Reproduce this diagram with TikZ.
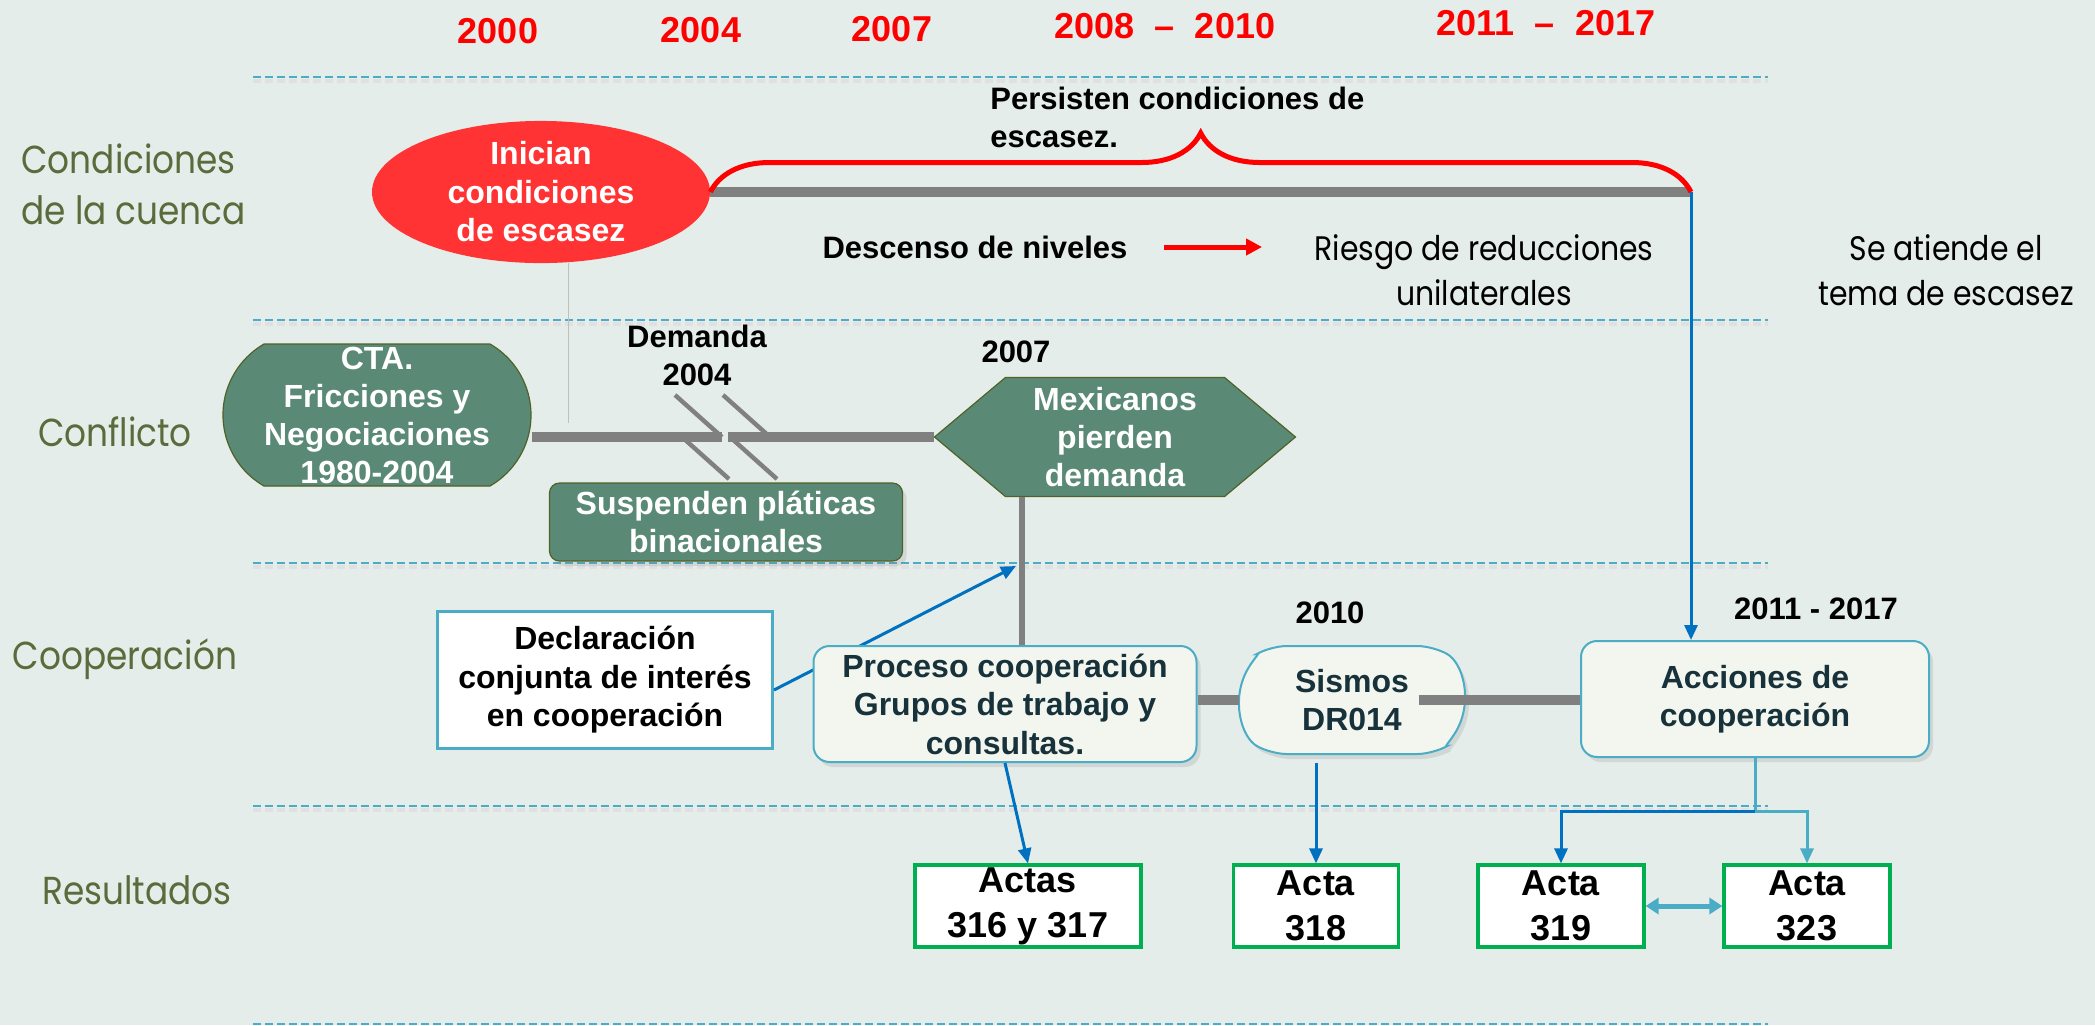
\documentclass[tikz,border=0pt]{standalone}
\usepackage{fontspec}
\setmainfont{Liberation Sans}
\newfontfamily\rowfont[FakeStretch=0.88]{Poppins}
\usetikzlibrary{shapes.geometric,shapes.misc,shapes.symbols,decorations.pathreplacing,shadows,arrows.meta}

\definecolor{bgcol}{HTML}{E4EDE9}
\definecolor{dashcol}{HTML}{4BACC6}
\definecolor{yearred}{HTML}{FF0000}
\definecolor{scarred}{HTML}{FF3333}
\definecolor{boxgreen}{HTML}{5A8A76}
\definecolor{olive}{HTML}{4F6228}
\definecolor{rowolive}{HTML}{5B6B3B}
\definecolor{pale}{HTML}{F2F6EE}
\definecolor{coopblue}{HTML}{0070C0}
\definecolor{coopteal}{HTML}{4BACC6}
\definecolor{coopink}{HTML}{17323A}
\definecolor{actgreen}{HTML}{00B050}
\definecolor{barg}{HTML}{808080}

\tikzset{
  % the timeline grid
  rowline/.style={draw=dashcol, line width=1pt, dash pattern=on 4pt off 2pt},
  rowshadow/.style={draw=black!12, line width=2pt, dash pattern=on 4pt off 2pt},
  % texts
  year/.style={font=\fontsize{18}{20}\selectfont\bfseries, text=yearred, inner sep=1pt},
  rowlabel/.style={font=\rowfont\fontsize{19.5}{25.5}\selectfont, text=rowolive, inner sep=1pt},
  note/.style={font=\fontsize{15.5}{19}\selectfont\bfseries, align=center, inner sep=1pt},
  remark/.style={font=\rowfont\fontsize{17}{22.5}\selectfont, align=center, inner sep=1pt},
  % boxes
  darkbox/.style={fill=boxgreen, draw=olive, line width=0.6pt, text=white,
    font=\fontsize{16}{19}\selectfont\bfseries, align=center, inner sep=0pt},
  coopbox/.style={rectangle, rounded corners=8pt, fill=pale, draw=coopteal, line width=1pt,
    text=coopink, font=\fontsize{16}{19.25}\selectfont\bfseries, align=center, inner sep=0pt,
    drop shadow={opacity=0.2, shadow xshift=2pt, shadow yshift=-2.5pt}},
  actbox/.style={rectangle, fill=white, draw=actgreen, line width=1.6pt, minimum height=41pt,
    font=\fontsize{18}{22.5}\selectfont\bfseries, align=center, inner sep=0pt},
  % connectors
  graybar/.style={draw=barg, line width=5pt},
  slash/.style={draw=barg, line width=2.2pt},
  bracered/.style={draw=red, line width=2.5pt, decorate, decoration={brace, amplitude=29.5pt}},
  redarrow/.style={draw=red, line width=2.5pt, -{Triangle[length=8pt,width=8pt]}},
  bluearrow/.style={draw=coopblue, line width=1.5pt, -{Triangle[length=7.5pt,width=6.5pt]}},
  tealarrow/.style={draw=coopteal, line width=1.5pt, -{Triangle[length=7.5pt,width=6.5pt]}},
  twoway/.style={draw=coopteal, line width=2.5pt, {Triangle[length=6.5pt,width=8pt]}-{Triangle[length=6.5pt,width=8pt]}}
}

\begin{document}
\begin{tikzpicture}[x=0.5pt, y=-0.5pt]
  \useasboundingbox[fill=bgcol] (0,0) rectangle (2095,1025);

  % grid lines
  \foreach \y in {77,320,563,806,1024} {
    \draw[rowshadow] (253,\y+4) -- (1768,\y+4);
    \draw[rowline] (253,\y) -- (1768,\y);
  }

  % years
  \node[year] (y2000) at (498,31) {2000};
  \node[year] (y2004) at (701,30) {2004};
  \node[year] (y2007) at (892,29) {2007};
  \node[year] (y2008) at (1165,26) {2008~~–~~2010};
  \node[year] (y2011) at (1546,23) {2011~~–~~2017};

  % row labels
  \node[rowlabel, anchor=west, align=left] (lcuenca) at (19,184) {Condiciones\\de la cuenca};
  \node[rowlabel] (lconflicto) at (115,432) {Conflicto};
  \node[rowlabel] (lcoop) at (125,659) {Cooperación};
  \node[rowlabel] (lresult) at (137,890) {Resultados};

  % basin conditions
  \coordinate (bend) at (1691,192);
  \node[ellipse, fill=scarred, text=white, minimum width=169pt, minimum height=57pt, inner sep=0pt,
        font=\fontsize{16}{19.25}\selectfont\bfseries, align=center] (incond) at (541,192)
        {Inician\\condiciones\\de escasez};
  \draw[graybar] (incond.east) -- (bend);
  \draw[bracered] (incond.east) -- (bend);
  \node[note, anchor=west, align=left] (persist) at (988,117) {Persisten condiciones de\\escasez.};
  \node[note] (descenso) at (975,247) {Descenso de niveles};
  \node[remark] (riesgo) at (1484,270) {Riesgo de reducciones\\unilaterales};
  \node[remark] (atiende) at (1946,270) {Se atiende el\\tema de escasez};
  \draw[redarrow, shorten <=17pt, shorten >=25pt] (descenso.east) -- (descenso.east -| riesgo.west);

  % conflict
  \coordinate (drop) at (568,423);
  \draw[draw=black!25, line width=0.5pt] (568,263) -- (drop);
  \node[darkbox, rounded rectangle, rounded rectangle arc length=120,
        minimum width=154pt, minimum height=71pt] (cta) at (377,415)
        {CTA.\\Fricciones y\\Negociaciones\\1980-2004};
  \node[note] (demanda) at (697,355) {Demanda\\2004};
  \node[note] (y07) at (1016,352) {2007};
  \node[darkbox, signal, signal to=west and east, signal pointer angle=80,
        minimum width=180.5pt, minimum height=59.5pt] (mex) at (1115,437)
        {Mexicanos\\pierden\\demanda};
  \coordinate (brk) at (725,437);
  \draw[graybar] (cta.east |- brk) -- ([xshift=-1.5pt]brk);
  \draw[graybar] ([xshift=1.5pt]brk) -- (mex.west);
  \foreach \a in {-50,-2}
    \draw[slash] (brk) ++(\a,-42) -- ++(47,42);
  \foreach \a in {-43,5}
    \draw[slash] (brk) ++(\a,0) -- ++(47,42);
  \node[darkbox, rectangle, rounded corners=5pt, minimum width=176.5pt, minimum height=39pt,
        drop shadow={opacity=0.2, shadow xshift=2pt, shadow yshift=-2.5pt}] (suspend) at (726,522)
        {Suspenden pláticas\\binacionales};

  % cooperation
  \draw[draw=barg, line width=3pt] ([xshift=-46.5pt]mex.south) -- ++(0,148);
  \node[rectangle, fill=white, draw=coopteal, line width=1.5pt, minimum width=167.5pt, minimum height=68.5pt,
        font=\fontsize{16}{19.25}\selectfont\bfseries, align=center, inner sep=0pt] (declar) at (605,680)
        {Declaración\\conjunta de interés\\en cooperación};
  \coordinate (decltip) at (1016,566);
  \draw[bluearrow] ([yshift=-5pt]declar.east) -- (decltip);
  \node[coopbox, minimum width=191.5pt, minimum height=58pt] (proceso) at (1005,704)
        {Proceso cooperación\\Grupos de trabajo y\\consultas.};
  \node[coopbox, rounded rectangle, rounded rectangle arc length=120,
        minimum width=112.5pt, minimum height=54pt] (sismos) at (1352,700) {Sismos\\DR014};
  \node[coopbox, minimum width=174pt, minimum height=58pt] (acciones) at (1755,699)
        {Acciones de\\cooperación};
  \node[note] (y10) at (1330,613) {2010};
  \node[note] (y1117) at (1816,609) {2011 - 2017};
  \draw[graybar] (proceso.east |- sismos.west) -- (sismos.west);
  \draw[graybar] ([xshift=-23.5pt]sismos.east) -- (sismos.east -| acciones.west);
  \draw[bluearrow] (bend) -- (bend |- acciones.north);

  % results
  \node[actbox, minimum width=113pt] (a316) at (1028,906) {Actas\\316 y 317};
  \node[actbox, minimum width=82.5pt] (a318) at (1316,906) {Acta\\318};
  \node[actbox, minimum width=83pt] (a319) at (1561,906) {Acta\\319};
  \node[actbox, minimum width=83pt] (a323) at (1807,906) {Acta\\323};
  \draw[bluearrow] (proceso.south) -- (a316.north);
  \draw[bluearrow] ([yshift=-4pt]sismos.south -| a318.north) -- (a318.north);
  \coordinate (split) at (1755,811);
  \draw[tealarrow] (acciones.south) -- (split) -| (a323.north);
  \draw[bluearrow] (split) -| (a319.north);
  \draw[twoway] (a319.east) -- (a323.west);
\end{tikzpicture}
\end{document}
